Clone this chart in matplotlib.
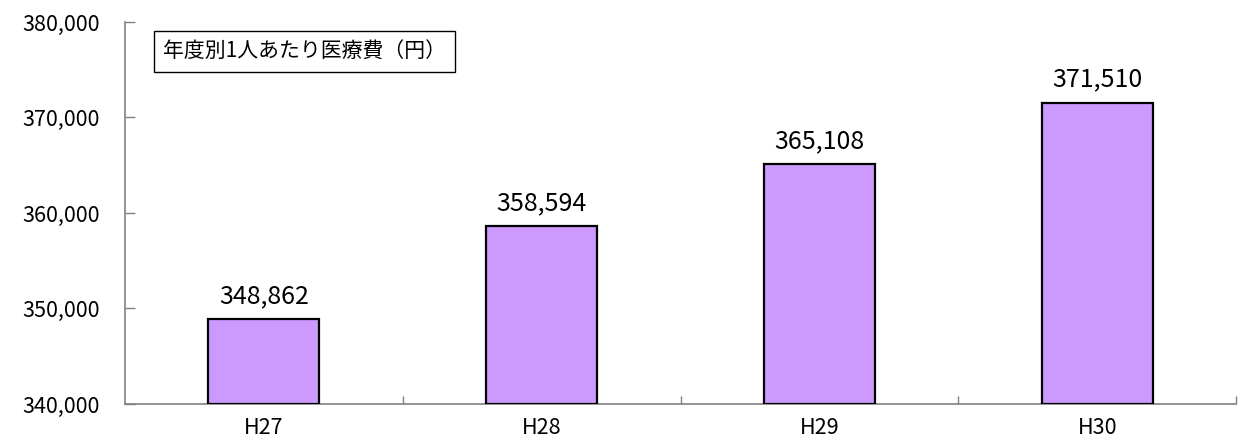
import matplotlib
matplotlib.use("Agg")
import matplotlib.pyplot as plt
from matplotlib.ticker import FuncFormatter, FixedLocator

plt.rcParams['font.family'] = ['Noto Sans CJK JP', 'DejaVu Sans']

categories = ["H27", "H28", "H29", "H30"]
values = [348862, 358594, 365108, 371510]
title = "年度別1人あたり医療費（円）"

fig = plt.figure(figsize=(12.47, 4.41), dpi=100)
ax = fig.add_axes([125/1247, 1-404/441, (1236-125)/1247, (404-22)/441])

x = list(range(len(categories)))
ax.bar(x, [v - 340000 for v in values], bottom=340000, width=0.40,
       color="#CC99FF", edgecolor="black", linewidth=1.6, zorder=3)

ax.set_xlim(-0.5, len(categories) - 0.5)
ax.set_ylim(340000, 380000)
ax.set_yticks([340000, 350000, 360000, 370000, 380000])
ax.yaxis.set_major_formatter(FuncFormatter(lambda v, p: f"{int(v):,}"))

ax.set_xticks(x)
ax.set_xticklabels(categories, fontsize=15.5)
ax.tick_params(axis='x', length=0, pad=9)
ax.xaxis.set_minor_locator(FixedLocator([i + 0.5 for i in range(len(categories))]))
ax.tick_params(axis='x', which='minor', direction='in', length=6, color='#808080', width=1)
ax.tick_params(axis='y', direction='in', length=7, color='#808080', width=1, labelsize=15.5, pad=18)

for s in ['top', 'right']:
    ax.spines[s].set_visible(False)
for s in ['left', 'bottom']:
    ax.spines[s].set_color('#808080')
    ax.spines[s].set_linewidth(1.2)

for xi, v in zip(x, values):
    ax.annotate(f"{v:,}", xy=(xi, v), xytext=(0, 11.8), textcoords='offset points',
                ha='center', va='baseline', fontsize=18)

ax.text(0.0342, 0.923, title, transform=ax.transAxes, fontsize=15, ha='left', va='center',
        bbox=dict(boxstyle='square,pad=0.45', facecolor='white', edgecolor='black', linewidth=1))

fig.savefig("out.png", dpi=100)
